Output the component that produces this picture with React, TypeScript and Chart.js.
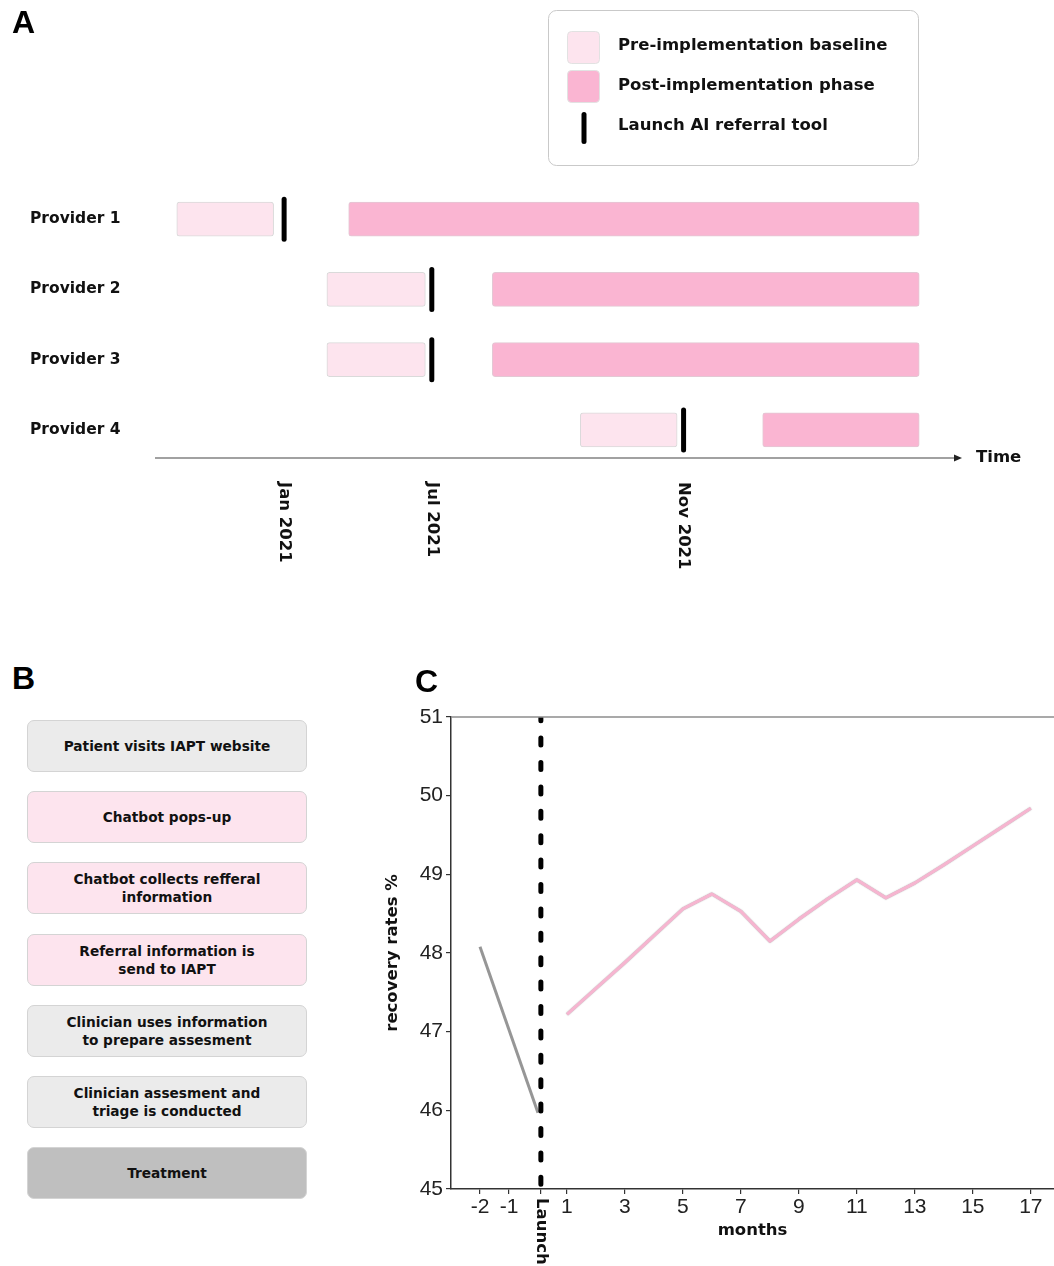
import React, { useEffect, useRef } from 'react';
import { Chart, registerables } from 'chart.js';

Chart.register(...registerables);

// ---------- Panel A data (timeline positions on an arbitrary 0–100 time axis) ----------
const providers = ['Provider 1', 'Provider 2', 'Provider 3', 'Provider 4'];
const providerRows = [1, 2, 3, 4];
const baselineStart = [2.7, 21.3, 21.3, 52.7];
const baselineEnd = [14.7, 33.5, 33.5, 64.7];
const launchAt = [16.0, 34.3, 34.3, 65.5];
const postStart = [24.0, 41.8, 41.8, 75.3];
const postEnd = [94.7, 94.7, 94.7, 94.7];
const dateTickValues = [16.0, 34.3, 65.5];
const dateTickLabels = ['Jan 2021', 'Jul 2021', 'Nov 2021'];
const legendLabels = ['Pre-implementation baseline', 'Post-implementation phase', 'Launch AI referral tool'];
const axisLabel = 'Time';

// ---------- Panel B data ----------
const steps = [
  'Patient visits IAPT website',
  'Chatbot pops-up',
  'Chatbot collects refferal\ninformation',
  'Referral information is\nsend to IAPT',
  'Clinician uses information\nto prepare assesment',
  'Clinician assesment and\ntriage is conducted',
  'Treatment',
];
const stepKinds = ['neutral', 'chatbot', 'chatbot', 'chatbot', 'neutral', 'neutral', 'final'];

// ---------- Panel C data ----------
const preMonths = [-2, 0];
const preRates = [48.08, 45.97];
const postMonths = [1, 2, 3, 4, 5, 6, 7, 8, 9, 10, 11, 12, 13, 14, 15, 16, 17];
const postRates = [47.22, 47.55, 47.88, 48.22, 48.56, 48.75, 48.53, 48.15, 48.43, 48.69, 48.93, 48.7, 48.89, 49.12, 49.36, 49.6, 49.84];
const launchMonth = 0.1;
const monthTicks = [-2, -1, 0.1, 1, 3, 5, 7, 9, 11, 13, 15, 17];
const monthTickLabels = ['-2', '-1', 'Launch', '1', '3', '5', '7', '9', '11', '13', '15', '17'];
const rateTicks = [45, 46, 47, 48, 49, 50, 51];

const PRE = '#fde4ee';
const POST = '#fab5d2';
const BOLD = '"DejaVu Sans", sans-serif';
const NUM = '"Liberation Sans", Arial, sans-serif';

const stepColors: Record<string, string> = { neutral: '#ebebeb', chatbot: '#fde4ee', final: '#bfbfbf' };

function TimelineChart() {
  const ref = useRef<HTMLCanvasElement>(null);
  useEffect(() => {
    if (!ref.current) return;
    const extras = {
      id: 'timelineExtras',
      beforeDatasetDraw(chart: any, args: any) {
        if (args.index === 0) chart.ctx.lineCap = 'round';
      },
      afterDatasetDraw(chart: any, args: any) {
        if (args.index === 0) chart.ctx.lineCap = 'butt';
      },
      afterDraw(chart: any) {
        const { ctx, chartArea, scales } = chart;
        const b = chartArea.bottom;
        ctx.save();
        // time axis arrow
        ctx.strokeStyle = '#444';
        ctx.lineWidth = 1.2;
        ctx.beginPath();
        ctx.moveTo(chartArea.left, b);
        ctx.lineTo(chartArea.right - 5, b);
        ctx.stroke();
        ctx.fillStyle = '#222';
        ctx.beginPath();
        ctx.moveTo(chartArea.right, b);
        ctx.lineTo(chartArea.right - 8, b - 3.5);
        ctx.lineTo(chartArea.right - 8, b + 3.5);
        ctx.closePath();
        ctx.fill();
        ctx.fillStyle = '#111';
        ctx.font = `bold 16.5px ${BOLD}`;
        ctx.textBaseline = 'middle';
        ctx.textAlign = 'left';
        ctx.fillText(axisLabel, chartArea.right + 14, b);
        // rotated date labels
        dateTickValues.forEach((v, i) => {
          const x = scales.x.getPixelForValue(v);
          ctx.save();
          ctx.translate(x, b + 24);
          ctx.rotate(Math.PI / 2);
          ctx.textAlign = 'left';
          ctx.textBaseline = 'middle';
          ctx.fillText(dateTickLabels[i], 0, 0);
          ctx.restore();
        });
        // legend box
        const ds = chart.data.datasets;
        ctx.beginPath();
        ctx.roundRect(548.5, 10.5, 370, 155, 8);
        ctx.fillStyle = '#fff';
        ctx.fill();
        ctx.strokeStyle = '#c9c9c9';
        ctx.lineWidth = 1;
        ctx.stroke();
        const sw = [ds[1], ds[2]];
        sw.forEach((d: any, i: number) => {
          ctx.beginPath();
          ctx.roundRect(567.5, 31.5 + i * 39, 32, 32, 4);
          ctx.fillStyle = d.backgroundColor;
          ctx.fill();
          ctx.strokeStyle = '#e2e2e2';
          ctx.stroke();
        });
        ctx.beginPath();
        ctx.lineCap = 'round';
        ctx.strokeStyle = '#000';
        ctx.lineWidth = 5;
        ctx.moveTo(584, 114.5);
        ctx.lineTo(584, 141.5);
        ctx.stroke();
        ctx.fillStyle = '#111';
        ctx.font = `bold 16.5px ${BOLD}`;
        ctx.textAlign = 'left';
        ctx.textBaseline = 'middle';
        [ds[1].label, ds[2].label, ds[0].label].forEach((t: string, i: number) => {
          ctx.fillText(t, 618, 46 + i * 40);
        });
        ctx.restore();
      },
    };
    const chart = new Chart(ref.current, {
      type: 'bar',
      data: {
        datasets: [
          {
            type: 'scatter',
            label: legendLabels[2],
            data: providerRows.map((r, i) => ({ x: launchAt[i], y: r })),
            pointStyle: 'line',
            pointRadius: 20,
            pointRotation: 90,
            pointBorderWidth: 5,
            pointBorderColor: '#000',
            pointBackgroundColor: '#000',
            showLine: false,
            clip: false,
            order: 0,
          } as any,
          {
            type: 'bar',
            label: legendLabels[0],
            indexAxis: 'y',
            data: providerRows.map((r, i) => ({ x: [baselineStart[i], baselineEnd[i]], y: r })),
            backgroundColor: PRE,
            borderColor: '#dadada',
            borderWidth: 1,
            borderRadius: 3,
            borderSkipped: false,
            barThickness: 34,
            grouped: false,
            order: 1,
          } as any,
          {
            type: 'bar',
            label: legendLabels[1],
            indexAxis: 'y',
            data: providerRows.map((r, i) => ({ x: [postStart[i], postEnd[i]], y: r })),
            backgroundColor: POST,
            borderColor: '#e3c8d4',
            borderWidth: 1,
            borderRadius: 3,
            borderSkipped: false,
            barThickness: 34,
            grouped: false,
            order: 2,
          } as any,
        ],
      },
      options: {
        responsive: false,
        animation: false,
        layout: { autoPadding: false, padding: { left: 30, right: 92, top: 184, bottom: 142 } },
        plugins: { legend: { display: false }, tooltip: { enabled: false } },
        scales: {
          x: { type: 'linear', min: 0, max: 100, offset: false, display: false },
          y: {
            type: 'linear',
            min: 0.5,
            max: 4.4,
            offset: false,
            reverse: true,
            afterBuildTicks: (s: any) => {
              s.ticks = providerRows.map((v) => ({ value: v }));
            },
            afterFit: (s: any) => {
              s.width = 125;
            },
            grid: { display: false, offset: false },
            border: { display: false },
            ticks: {
              autoSkip: false,
              crossAlign: 'far',
              padding: 0,
              color: '#111',
              font: { family: BOLD, size: 15.5, weight: 'bold' },
              callback: (v: any) => providers[providerRows.indexOf(Number(v))],
            },
          },
        },
      } as any,
      plugins: [extras],
    });
    return () => chart.destroy();
  }, []);
  return <canvas ref={ref} width={1054} height={600} style={{ position: 'absolute', left: 0, top: 0 }} />;
}

function RecoveryChart() {
  const ref = useRef<HTMLCanvasElement>(null);
  useEffect(() => {
    if (!ref.current) return;
    const extras = {
      id: 'recoveryExtras',
      beforeDatasetDraw(chart: any, args: any) {
        if (args.index === 2) {
          chart.ctx.shadowColor = 'rgba(0,0,0,0.35)';
          chart.ctx.shadowBlur = 1.2;
        }
      },
      afterDatasetDraw(chart: any, args: any) {
        if (args.index === 2) {
          chart.ctx.shadowColor = 'rgba(0,0,0,0)';
          chart.ctx.shadowBlur = 0;
        }
      },
      afterDraw(chart: any) {
        const { ctx, chartArea, scales } = chart;
        ctx.save();
        ctx.strokeStyle = '#8c8c8c';
        ctx.lineWidth = 1.5;
        ctx.beginPath();
        ctx.moveTo(chartArea.left, chartArea.top);
        ctx.lineTo(chartArea.right, chartArea.top);
        ctx.stroke();
        const idx = monthTickLabels.indexOf('Launch');
        const x = scales.x.getPixelForValue(monthTicks[idx]);
        ctx.translate(x, chartArea.bottom + 9);
        ctx.rotate(Math.PI / 2);
        ctx.fillStyle = '#111';
        ctx.font = `bold 16.5px ${BOLD}`;
        ctx.textAlign = 'left';
        ctx.textBaseline = 'middle';
        ctx.fillText(monthTickLabels[idx], 0, 0);
        ctx.restore();
      },
    };
    const chart = new Chart(ref.current, {
      type: 'line',
      data: {
        datasets: [
          {
            label: 'Launch',
            data: [
              { x: launchMonth, y: rateTicks[0] },
              { x: launchMonth, y: rateTicks[rateTicks.length - 1] },
            ],
            borderColor: '#000',
            borderWidth: 5,
            borderDash: [7, 17.4],
            borderDashOffset: 19.7,
            borderCapStyle: 'round',
            pointRadius: 0,
          },
          {
            label: 'Pre-implementation',
            data: preMonths.map((m, i) => ({ x: m, y: preRates[i] })),
            borderColor: '#969696',
            borderWidth: 3,
            pointRadius: 0,
          },
          {
            label: 'Post-implementation',
            data: postMonths.map((m, i) => ({ x: m, y: postRates[i] })),
            borderColor: '#f6b5d0',
            borderWidth: 3.2,
            borderJoinStyle: 'round',
            pointRadius: 0,
          },
        ],
      },
      options: {
        responsive: false,
        animation: false,
        layout: { autoPadding: false, padding: { left: 10, top: 67, right: 0, bottom: 0 } },
        plugins: { legend: { display: false }, tooltip: { enabled: false } },
        scales: {
          x: {
            type: 'linear',
            min: -3,
            max: 17.8,
            afterBuildTicks: (s: any) => {
              s.ticks = monthTicks.map((v) => ({ value: v }));
            },
            afterFit: (s: any) => {
              s.height = 77;
            },
            grid: { drawOnChartArea: false, drawTicks: true, tickLength: 5, color: '#333', lineWidth: 1.2 },
            border: { color: '#333', width: 1.5 },
            ticks: {
              autoSkip: false,
              maxRotation: 0,
              minRotation: 0,
              padding: 1,
              color: '#222',
              font: { family: NUM, size: 21 },
              callback: (_v: any, i: number) => (monthTickLabels[i] === 'Launch' ? '' : monthTickLabels[i]),
            },
            title: {
              display: true,
              text: 'months',
              color: '#111',
              font: { family: BOLD, size: 16.5, weight: 'bold' },
              padding: { top: 0, bottom: 25 },
            },
          },
          y: {
            type: 'linear',
            min: 45,
            max: 51,
            afterBuildTicks: (s: any) => {
              s.ticks = rateTicks.map((v) => ({ value: v }));
            },
            afterFit: (s: any) => {
              s.width = 71;
            },
            grid: { drawOnChartArea: false, drawTicks: true, tickLength: 5, color: '#333', lineWidth: 1.2 },
            border: { color: '#333', width: 1.5 },
            ticks: {
              autoSkip: false,
              padding: 3,
              color: '#222',
              font: { family: NUM, size: 21 },
              callback: (v: any) => String(v),
            },
            title: {
              display: true,
              text: 'recovery rates %',
              color: '#111',
              font: { family: BOLD, size: 16.5, weight: 'bold' },
              padding: { top: 3, bottom: 0 },
            },
          },
        },
      } as any,
      plugins: [extras],
    });
    return () => chart.destroy();
  }, []);
  return <canvas ref={ref} width={684} height={616} style={{ position: 'absolute', left: 370, top: 650 }} />;
}

const panelLabel: React.CSSProperties = {
  position: 'absolute',
  fontFamily: NUM,
  fontWeight: 'bold',
  fontSize: 32,
  lineHeight: '32px',
  color: '#000',
};

export default function App() {
  return (
    <div
      style={{
        position: 'absolute',
        left: 0,
        top: 0,
        width: 1054,
        height: 1266,
        overflow: 'hidden',
        background: '#fff',
      }}
    >
      <TimelineChart />
      <RecoveryChart />
      <div style={{ ...panelLabel, left: 12, top: 6 }}>A</div>
      <div style={{ ...panelLabel, left: 12, top: 662 }}>B</div>
      <div style={{ ...panelLabel, left: 415, top: 665 }}>C</div>
      {steps.map((s, i) => (
        <div
          key={i}
          style={{
            position: 'absolute',
            left: 27,
            top: 720 + i * 71.2,
            width: 280,
            height: 52,
            boxSizing: 'border-box',
            border: '1px solid #d4d4d4',
            borderRadius: 7,
            background: stepColors[stepKinds[i]],
            display: 'flex',
            alignItems: 'center',
            justifyContent: 'center',
            textAlign: 'center',
            whiteSpace: 'pre-line',
            fontFamily: BOLD,
            fontWeight: 'bold',
            fontSize: 13.7,
            lineHeight: '18px',
            color: '#111',
          }}
        >
          {s}
        </div>
      ))}
    </div>
  );
}
